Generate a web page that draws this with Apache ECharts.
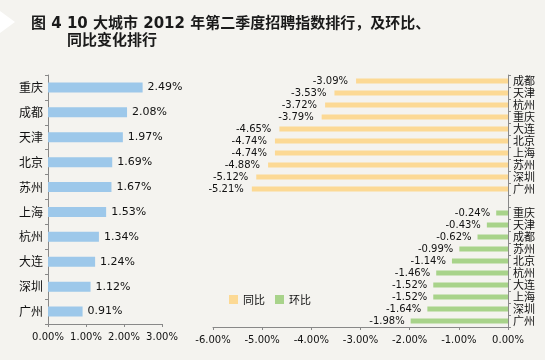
<!DOCTYPE html>
<html><head><meta charset="utf-8">
<script src="https://cdn.jsdelivr.net/npm/echarts@6/dist/echarts.min.js"></script>
<style>html,body{margin:0;padding:0;background:#f4f3ef;}#c{width:545px;height:360px;}</style>
</head><body><div id="c"></div>
<script>
// Left: recruitment index growth, Q2 2012
const indexCities = ['重庆','成都','天津','北京','苏州','上海','杭州','大连','深圳','广州'];
const indexValues = [2.49, 2.08, 1.97, 1.69, 1.67, 1.53, 1.34, 1.24, 1.12, 0.91];
// Right top: year-on-year (同比)
const yoyCities = ['成都','天津','杭州','重庆','大连','北京','上海','苏州','深圳','广州'];
const yoyValues = [-3.09, -3.53, -3.72, -3.79, -4.65, -4.74, -4.74, -4.88, -5.12, -5.21];
// Right bottom: quarter-on-quarter (环比)
const qoqCities = ['重庆','天津','成都','苏州','北京','杭州','大连','上海','深圳','广州'];
const qoqValues = [-0.24, -0.43, -0.62, -0.99, -1.14, -1.46, -1.52, -1.52, -1.64, -1.98];
const leftTicks = [0, 1, 2, 3];
const rightTicks = [-6, -5, -4, -3, -2, -1, 0];
const titleLine1 = '图 4 10 大城市 2012 年第二季度招聘指数排行，及环比、';
const titleLine2 = '同比变化排行';

const rightLabels = yoyCities.concat([''], qoqCities);
const rightCats = rightLabels.map((_, i) => 'c' + i);
const yoyData = yoyValues.concat(new Array(qoqValues.length + 1).fill(null));
const qoqData = new Array(yoyValues.length + 1).fill(null).concat(qoqValues);

const FONT = "'DejaVu Sans','Noto Sans CJK SC',sans-serif";
const CJK = "'Noto Sans CJK SC',sans-serif";
const pct = v => v.toFixed(2) + '%';

const chart = echarts.init(document.getElementById('c'));
chart.setOption({
  backgroundColor: '#f4f3ef',
  animation: false,
  textStyle: { fontFamily: FONT },
  graphic: [{ type: 'polygon', shape: { points: [[0, 11], [15, 22], [0, 33]] }, style: { fill: '#ffffff' } }],
  title: [
    { text: titleLine1, left: 26, top: 12, textStyle: { fontFamily: FONT, fontSize: 15, fontWeight: 'bold', color: '#1a1a1a' } },
    { text: titleLine2, left: 62, top: 29, textStyle: { fontFamily: FONT, fontSize: 15, fontWeight: 'bold', color: '#1a1a1a' } }
  ],
  legend: {
    data: ['同比', '环比'], left: 224, top: 289, itemWidth: 9, itemHeight: 9, itemGap: 10, icon: 'rect',
    textStyle: { fontFamily: CJK, fontSize: 11, color: '#111' }
  },
  grid: [
    { left: 48, top: 75, width: 114, height: 249 },
    { left: 213, top: 75, width: 295, height: 252 }
  ],
  xAxis: [
    { gridIndex: 0, type: 'value', min: leftTicks[0], max: leftTicks[leftTicks.length - 1], interval: 1,
      splitLine: { show: false },
      axisLine: { show: true, lineStyle: { color: '#888' } },
      axisTick: { show: true, length: 3, lineStyle: { color: '#888' } },
      axisLabel: { formatter: pct, fontSize: 10, color: '#111', margin: 8 } },
    { gridIndex: 1, type: 'value', min: rightTicks[0], max: rightTicks[rightTicks.length - 1], interval: 1,
      splitLine: { show: false },
      axisLine: { show: true, lineStyle: { color: '#888' } },
      axisTick: { show: true, length: 3, lineStyle: { color: '#888' } },
      axisLabel: { formatter: pct, fontSize: 10, color: '#111', margin: 8 } }
  ],
  yAxis: [
    { gridIndex: 0, type: 'category', inverse: true, data: indexCities,
      axisLine: { show: true, lineStyle: { color: '#888' } },
      axisTick: { show: true, length: 3, lineStyle: { color: '#888' } },
      axisLabel: { fontFamily: CJK, fontSize: 12, color: '#111', margin: 5 } },
    { gridIndex: 1, type: 'category', inverse: true, position: 'right', data: rightCats,
      axisLine: { show: true, onZero: false, lineStyle: { color: '#888' } },
      axisTick: { show: true, length: 3, inside: false, lineStyle: { color: '#888' } },
      axisLabel: { fontFamily: CJK, fontSize: 11, lineHeight: 12, color: '#111', margin: 5, interval: 0,
        formatter: (v, i) => rightLabels[i] } }
  ],
  series: [
    { type: 'bar', xAxisIndex: 0, yAxisIndex: 0, data: indexValues, barWidth: 10,
      itemStyle: { color: '#9dc8ea' },
      label: { show: true, position: 'right', distance: 5, formatter: p => pct(p.value), fontSize: 11, color: '#111' } },
    { name: '同比', type: 'bar', xAxisIndex: 1, yAxisIndex: 1, data: yoyData, barWidth: 5, barGap: '-100%',
      itemStyle: { color: '#fcd994' },
      label: { show: true, position: 'left', distance: 8, formatter: p => p.value == null ? '' : pct(p.value), fontSize: 10, color: '#111' } },
    { name: '环比', type: 'bar', xAxisIndex: 1, yAxisIndex: 1, data: qoqData, barWidth: 5, barGap: '-100%',
      itemStyle: { color: '#a8d38a' },
      label: { show: true, position: 'left', distance: 6, formatter: p => p.value == null ? '' : pct(p.value), fontSize: 10, color: '#111' } }
  ]
});
</script></body></html>
